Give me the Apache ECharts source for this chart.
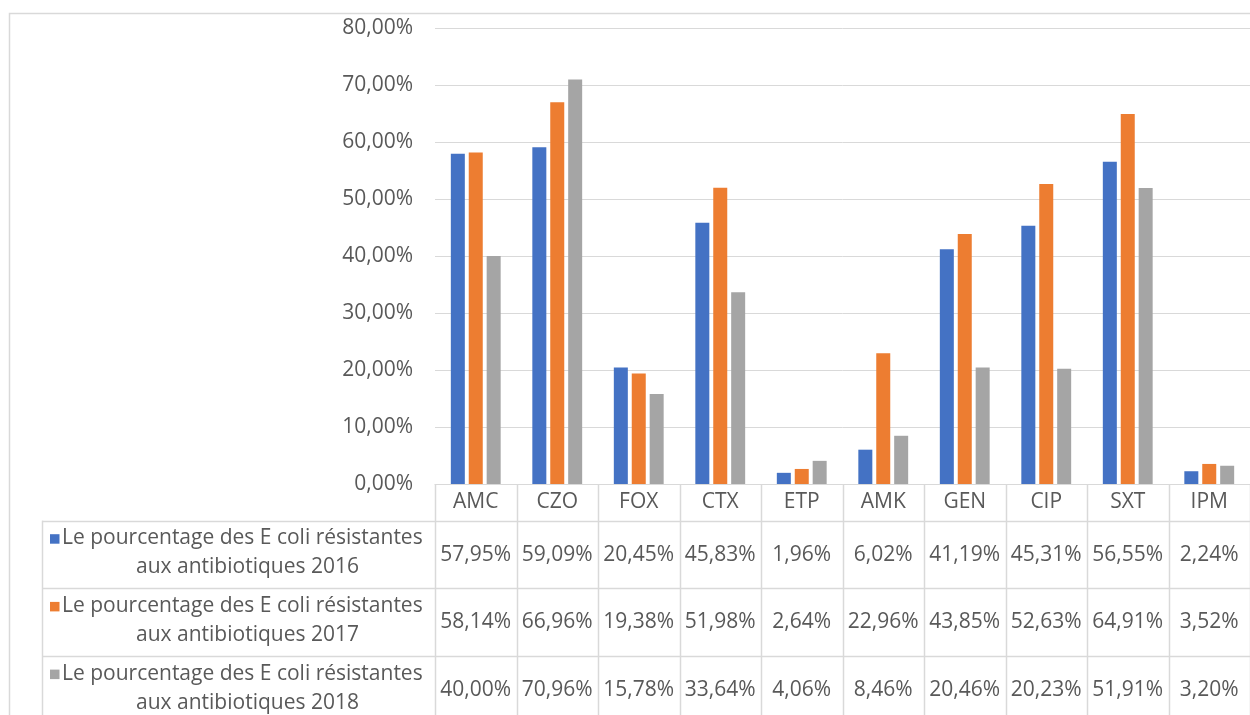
<!DOCTYPE html>
<html>
<head>
<meta charset="utf-8">
<script src="https://cdn.jsdelivr.net/npm/echarts@6/dist/echarts.min.js"></script>
<style>
  html, body { margin: 0; padding: 0; background: #ffffff; }
  #chart { width: 1250px; height: 715px; }
</style>
</head>
<body>
<div id="chart"></div>
<script>
// Antibiotic codes (categories)
const categories = ['AMC', 'CZO', 'FOX', 'CTX', 'ETP', 'AMK', 'GEN', 'CIP', 'SXT', 'IPM'];

// Percentage of resistant E. coli per year
const pct2016 = [57.95, 59.09, 20.45, 45.83, 1.96, 6.02, 41.19, 45.31, 56.55, 2.24];
const pct2017 = [58.14, 66.96, 19.38, 51.98, 2.64, 22.96, 43.85, 52.63, 64.91, 3.52];
const pct2018 = [40.00, 70.96, 15.78, 33.64, 4.06, 8.46, 20.46, 20.23, 51.91, 3.20];

// Series labels (two lines in the data table)
const seriesLine1 = 'Le pourcentage des E coli résistantes';
const seriesLine2 = ['aux antibiotiques 2016', 'aux antibiotiques 2017', 'aux antibiotiques 2018'];

// Value axis range
const yMin = 0;
const yMax = 80;
const yStep = 10;

const palette = ['#4472C4', '#ED7D31', '#A5A5A5'];
const textColor = '#595959';
const lineColor = '#d9d9d9';
const fontFamily = '"Open Sans", Lato, sans-serif';
const fontSize = 21;

const fmt = v => v.toFixed(2).replace('.', ',') + '%';

const rows = [pct2016, pct2017, pct2018];

const chart = echarts.init(document.getElementById('chart'), null, { renderer: 'canvas' });

chart.setOption({
  animation: false,
  backgroundColor: '#ffffff',
  textStyle: { fontFamily: fontFamily, color: textColor },
  grid: { left: 435, top: 28, right: -10, bottom: 231, containLabel: false },
  xAxis: {
    type: 'category',
    data: categories,
    axisLine: { show: true, lineStyle: { color: lineColor, width: 1 } },
    axisTick: { show: false },
    axisLabel: {
      color: textColor, fontSize: fontSize, fontFamily: fontFamily,
      verticalAlign: 'middle', margin: 18
    },
    splitLine: { show: false }
  },
  yAxis: {
    type: 'value',
    min: yMin, max: yMax, interval: yStep,
    axisLine: { show: false },
    axisTick: { show: false },
    axisLabel: {
      color: textColor, fontSize: fontSize, fontFamily: fontFamily, margin: 22,
      formatter: v => fmt(v)
    },
    splitLine: { show: true, lineStyle: { color: lineColor, width: 1 } }
  },
  series: rows.map((vals, i) => ({
    type: 'bar',
    name: seriesLine1 + ' ' + seriesLine2[i],
    data: vals,
    barWidth: 14,
    barGap: '28%',
    itemStyle: { color: palette[i] }
  }))
});

// Data table under the plot, laid out from the category axis
function buildTable() {
  const axisY = chart.convertToPixel({ yAxisIndex: 0 }, 0);
  const c0 = chart.convertToPixel({ xAxisIndex: 0 }, categories[0]);
  const c1 = chart.convertToPixel({ xAxisIndex: 0 }, categories[1]);
  const band = c1 - c0;
  const tableLeft = c0 - band / 2;
  const legendLeft = 42;
  const headerH = 36.7;
  const rowH = 67.7;
  const bottom = 760;
  const g = [];

  // outer chart border
  g.push({
    type: 'rect', silent: true,
    shape: { x: 9.5, y: 13.5, width: 1400, height: 900 },
    style: { fill: null, stroke: lineColor, lineWidth: 1.5 }
  });

  const rowTops = [axisY + headerH, axisY + headerH + rowH, axisY + headerH + 2 * rowH];

  // horizontal rules
  rowTops.forEach(y => {
    g.push({
      type: 'line', silent: true,
      shape: { x1: legendLeft, y1: Math.round(y) + 0.5, x2: 1300, y2: Math.round(y) + 0.5 },
      style: { stroke: lineColor, lineWidth: 1.5 }
    });
  });

  // vertical rules
  g.push({
    type: 'line', silent: true,
    shape: { x1: legendLeft + 0.5, y1: rowTops[0], x2: legendLeft + 0.5, y2: bottom },
    style: { stroke: lineColor, lineWidth: 1.5 }
  });
  for (let i = 0; i <= categories.length; i++) {
    const x = Math.round(tableLeft + i * band) + 0.5;
    g.push({
      type: 'line', silent: true,
      shape: { x1: x, y1: axisY, x2: x, y2: bottom },
      style: { stroke: lineColor, lineWidth: 1.5 }
    });
  }

  // legend cells
  rows.forEach((vals, r) => {
    const top = rowTops[r];
    g.push({
      type: 'rect', silent: true,
      shape: { x: 50, y: top + 13.5, width: 9.5, height: 9.5 },
      style: { fill: palette[r] }
    });
    g.push({
      type: 'text', silent: true,
      x: 62, y: top + 17.5,
      style: {
        text: seriesLine1, fill: textColor, font: fontSize + 'px ' + fontFamily,
        align: 'left', verticalAlign: 'middle'
      }
    });
    g.push({
      type: 'text', silent: true,
      x: (legendLeft + tableLeft) / 2 + 9, y: top + 46.5,
      style: {
        text: seriesLine2[r], fill: textColor, font: fontSize + 'px ' + fontFamily,
        align: 'center', verticalAlign: 'middle'
      }
    });

    // value cells
    vals.forEach((v, k) => {
      const cx = chart.convertToPixel({ xAxisIndex: 0 }, categories[k]);
      g.push({
        type: 'text', silent: true,
        x: cx, y: top + rowH / 2,
        style: {
          text: fmt(v), fill: textColor, font: fontSize + 'px ' + fontFamily,
          align: 'center', verticalAlign: 'middle'
        }
      });
    });
  });

  chart.setOption({ graphic: g });
}

buildTable();
</script>
</body>
</html>
